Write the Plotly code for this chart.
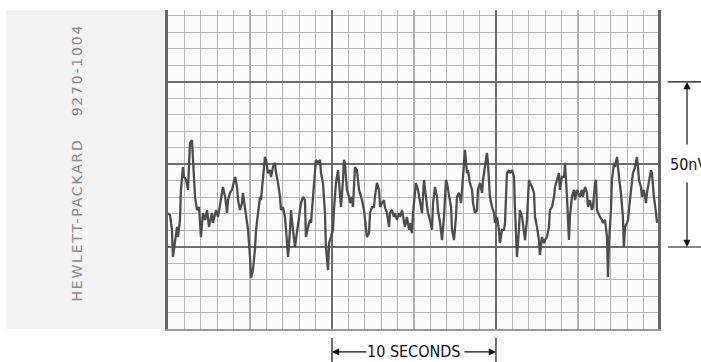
import plotly.graph_objects as go

# strip-chart noise trace: time (s) and output (nV)
t_s = [-0.24, -0.06, 0.12, 0.24, 0.30, 0.43, 0.55, 0.61, 0.73, 0.79, 0.91, 0.98, 1.10, 1.22, 1.34, 1.46,
       1.52, 1.65, 1.77, 1.89, 2.01, 2.13, 2.26, 2.38, 2.50, 2.68, 2.74, 2.93, 3.05, 3.29, 3.35, 3.48,
       3.60, 3.66, 3.78, 3.90, 4.09, 4.21, 4.27, 4.39, 4.51,
       4.57, 4.70, 4.76, 4.88, 5.00, 5.06, 5.18, 5.30, 5.37, 5.49, 5.61, 5.67, 5.79, 5.91, 5.98, 6.10,
       6.22, 6.28, 6.40, 6.52, 6.59, 6.71, 6.83, 6.89, 7.01, 7.13, 7.20, 7.32, 7.44, 7.50, 7.62, 7.74,
       7.80, 7.93, 8.05, 8.11, 8.23, 8.35, 8.41, 8.54, 8.66, 8.72, 8.84, 8.96, 9.02, 9.15, 9.27, 9.33,
       9.45, 9.57, 9.63, 9.76,
       9.82, 9.94, 10.06, 10.12, 10.24, 10.37, 10.43, 10.55, 10.67, 10.73, 10.79, 10.91, 11.04, 11.10,
       11.22, 11.28, 11.40, 11.52, 11.65, 11.71, 11.83, 11.95, 12.01, 12.13, 12.26, 12.32, 12.44, 12.56,
       12.62, 12.74, 12.87, 12.93, 13.05, 13.17, 13.23, 13.35, 13.48, 13.54, 13.66, 13.78, 13.84, 13.96,
       14.09, 14.15, 14.27, 14.39, 14.45, 14.57, 14.70, 14.76,
       14.88, 14.94, 15.06, 15.12, 15.24, 15.37, 15.49, 15.55, 15.61, 15.73, 15.85, 15.98, 16.10, 16.16,
       16.28, 16.40, 16.46, 16.59, 16.71, 16.83, 16.95, 17.01, 17.13, 17.26, 17.32, 17.44, 17.56, 17.62,
       17.74, 17.87, 17.93, 18.05, 18.11, 18.23, 18.29, 18.41, 18.54, 18.60, 18.72, 18.84, 18.90, 19.02,
       19.15, 19.21, 19.33, 19.45, 19.51, 19.63, 19.76,
       19.88, 19.94, 20.06, 20.18, 20.24, 20.37, 20.49, 20.55, 20.67, 20.79, 20.85, 20.98, 21.10, 21.16,
       21.28, 21.40, 21.46, 21.59, 21.71, 21.77, 21.89, 22.01, 22.07, 22.20, 22.32, 22.38, 22.50, 22.62,
       22.68, 22.80, 22.93, 22.99, 23.11, 23.23, 23.29, 23.41, 23.54, 23.60, 23.72, 23.84, 23.90, 24.02,
       24.15, 24.21, 24.33, 24.45, 24.51, 24.63, 24.76, 24.82,
       24.94, 25.00, 25.12, 25.24, 25.30, 25.43, 25.55, 25.61, 25.73, 25.85, 25.91, 26.04, 26.10, 26.16,
       26.22, 26.34, 26.46, 26.52, 26.65, 26.77, 26.83, 26.89, 27.01, 27.07, 27.20, 27.26, 27.38, 27.44,
       27.50, 27.62, 27.74, 27.80, 27.87, 27.99, 28.05, 28.17, 28.29, 28.35, 28.48, 28.60, 28.66, 28.72,
       28.84, 28.90, 29.02, 29.15, 29.21, 29.33, 29.45, 29.51, 29.63, 29.76, 29.82]
v_nv = [12.1, 10.3, 9.7, 5.2, -3.0, 2.1, 6.1, 3.0, 8.2, 17.3, 24.2, 21.2, 20.3, 17.3, 31.5, 32.4,
        25.5, 15.2, 11.2, 12.1, 3.0, 10.3, 8.2, 11.2, 6.1, 10.3, 7.3, 11.2, 9.1, 16.4, 18.2, 15.2,
        10.3, 14.2, 16.4, 17.3, 21.2, 18.2, 14.2, 11.2, 13.3,
        16.4, 12.1, 10.3, 5.2, -3.0, -9.4, -7.0, -0.9, 5.2, 11.2, 15.2, 14.2, 20.3, 27.3, 26.4, 22.4,
        23.3, 21.2, 24.2, 25.5, 22.4, 19.4, 15.2, 11.2, 12.1, 9.1, 5.2, -3.0, 5.2, 11.2, 5.2, 0.0,
        2.1, 6.1, 11.2, 13.3, 15.2, 14.2, 3.0, 6.1, 8.2, 7.3, 15.2, 23.3, 26.4, 25.5, 26.4, 22.4,
        19.4, 10.3, 0.0, -7.0,
        1.2, 3.0, 5.2, 11.2, 19.4, 23.3, 19.4, 12.1, 20.3, 26.4, 25.5, 17.3, 15.2, 13.3,
        15.2, 12.1, 24.2, 23.3, 17.3, 16.4, 14.2, 11.2, 8.2, 3.0, 4.2, 10.3, 12.1, 12.1,
        15.2, 19.4, 17.3, 12.1, 13.3, 14.2, 12.1, 10.3, 6.1, 10.3, 11.2, 9.1, 10.3, 8.2,
        10.3, 9.1, 11.2, 8.2, 6.1, 9.1, 5.2, 7.3,
        4.2, 10.3, 17.3, 19.4, 17.3, 13.3, 10.3, 15.2, 20.3, 15.2, 10.3, 8.2, 5.2, 13.3,
        18.2, 15.2, 11.2, 7.3, 2.1, 9.1, 20.3, 19.4, 16.4, 12.1, 5.2, 2.1, 9.1, 15.2,
        16.4, 13.3, 17.3, 24.2, 29.4, 22.4, 23.3, 19.4, 17.3, 13.3, 10.3, 11.2, 17.3, 19.4,
        16.4, 20.3, 24.2, 28.5, 25.5, 15.2, 12.1,
        10.3, 7.3, 9.1, 5.2, 1.2, 5.2, 5.2, 7.3, 22.4, 23.3, 22.4, 23.3, 21.2, 11.2,
        -3.0, 5.2, 11.2, 9.1, 3.0, 2.1, 8.2, 20.3, 19.4, 18.2, 16.4, 9.1, 6.1, 2.1,
        -2.4, 3.0, 1.2, 2.1, 3.0, 6.1, 11.2, 12.1, 15.2, 18.2, 20.3, 22.4, 17.3, 21.2,
        21.2, 25.5, 15.2, 2.1, 9.1, 15.2, 17.3, 14.2,
        17.3, 16.4, 15.2, 17.3, 15.2, 18.2, 16.4, 12.1, 14.2, 11.2, 12.1, 19.4, 20.3, 11.2,
        10.3, 9.1, 8.2, 7.3, 8.2, 3.0, -9.1, 1.2, 11.2, 20.3, 25.5, 24.2, 27.3, 23.3,
        21.2, 16.4, 9.1, 0.0, 6.1, 7.3, 8.2, 14.2, 20.3, 22.4, 24.2, 27.3, 24.2, 20.3,
        18.2, 15.2, 17.3, 13.3, 16.4, 19.4, 23.3, 22.4, 15.2, 10.3, 7.3]

# scale bars beside the strip
scale_t = [10, 20]   # 10 SECONDS
scale_v = [0, 50]    # 50nV

x_range = [0, 29.88]
y_range = [-24.85, 71.8]

minor_col = "#b5b5b5"
major_col = "#6c6c6c"
lab_font = dict(family="DejaVu Sans Condensed, Liberation Sans Narrow, Liberation Sans, Arial",
                size=16, color="#111")

fig = go.Figure()
fig.add_trace(go.Scatter(x=t_s, y=v_nv, mode="lines", line=dict(color="#4d4d4d", width=2.3),
                         hoverinfo="skip", showlegend=False))

fig.update_layout(
    width=701, height=362,
    margin=dict(l=168, r=43, t=10, b=33),
    paper_bgcolor="white", plot_bgcolor="#fcfcfc",
    xaxis=dict(range=x_range, tick0=0, dtick=10, showgrid=True, gridcolor=major_col, gridwidth=2,
               minor=dict(tick0=0, dtick=1, showgrid=True, gridcolor=minor_col, gridwidth=1),
               showticklabels=False, ticks="", zeroline=False,
               showline=True, linecolor="#999", linewidth=1.5),
    yaxis=dict(range=y_range, tick0=0, dtick=25, showgrid=True, gridcolor=major_col, gridwidth=2,
               minor=dict(tick0=0, dtick=5, showgrid=True, gridcolor=minor_col, gridwidth=1),
               showticklabels=False, ticks="", zeroline=False,
               showline=True, mirror=True, linecolor="#666", linewidth=3),
)

shapes = []
# light grey chart-paper margin on the left
shapes.append(dict(type="rect", xref="paper", yref="paper", x0=-0.331, x1=0, y0=0, y1=1,
                   fillcolor="#f3f3f3", line=dict(width=0), layer="below"))
# medium half-division lines
for xm in [5, 15, 25]:
    shapes.append(dict(type="line", xref="x", yref="paper", x0=xm, x1=xm, y0=0, y1=1,
                       line=dict(color="#8e8e8e", width=1.5), layer="between"))
# time scale end ticks
for xs in scale_t:
    shapes.append(dict(type="line", xref="x", yref="paper", x0=xs, x1=xs, y0=-0.028, y1=-0.105,
                       line=dict(color="#111", width=1.2)))
# voltage scale end ticks
for ys in scale_v:
    shapes.append(dict(type="line", xref="paper", yref="y", x0=1.020, x1=1.09, y0=ys, y1=ys,
                       line=dict(color="#111", width=1.2)))
fig.update_layout(shapes=shapes)

ann = []
# time scale
ann.append(dict(x=(scale_t[0] + scale_t[1]) / 2, y=-0.072, xref="x", yref="paper", text="10 SECONDS",
                showarrow=False, font=lab_font, yanchor="middle"))
ann.append(dict(x=scale_t[0], y=-0.072, xref="x", yref="paper", text="", showarrow=True,
                ax=36, ay=0, arrowhead=2, arrowsize=1.2, arrowwidth=1.2, arrowcolor="#111"))
ann.append(dict(x=scale_t[1], y=-0.072, xref="x", yref="paper", text="", showarrow=True,
                ax=-33, ay=0, arrowhead=2, arrowsize=1.2, arrowwidth=1.2, arrowcolor="#111"))
# voltage scale
ann.append(dict(x=1.0204, y=(scale_v[0] + scale_v[1]) / 2, xref="paper", yref="y", text="50nV",
                showarrow=False, font=lab_font, xanchor="left", yanchor="middle"))
ann.append(dict(x=1.0592, y=scale_v[1], xref="paper", yref="y", text="", showarrow=True,
                ax=0, ay=64, arrowhead=2, arrowsize=1.2, arrowwidth=1.2, arrowcolor="#111"))
ann.append(dict(x=1.0592, y=scale_v[0], xref="paper", yref="y", text="", showarrow=True,
                ax=0, ay=-66, arrowhead=2, arrowsize=1.2, arrowwidth=1.2, arrowcolor="#111"))
# chart paper imprint
hp_font = dict(family="DejaVu Sans, Verdana, sans-serif", size=14, color="#8c8c8c")
ann.append(dict(x=-0.206, y=0.522, xref="paper", yref="paper", textangle=-90, showarrow=False,
                text='<span style="letter-spacing:1.8px">HEWLETT-PACKARD\u2003 9270-1004</span>',
                font=hp_font))
fig.update_layout(annotations=ann)

fig.write_html("out.html", config={"displayModeBar": False},
               post_script="document.body.style.margin='0';")
